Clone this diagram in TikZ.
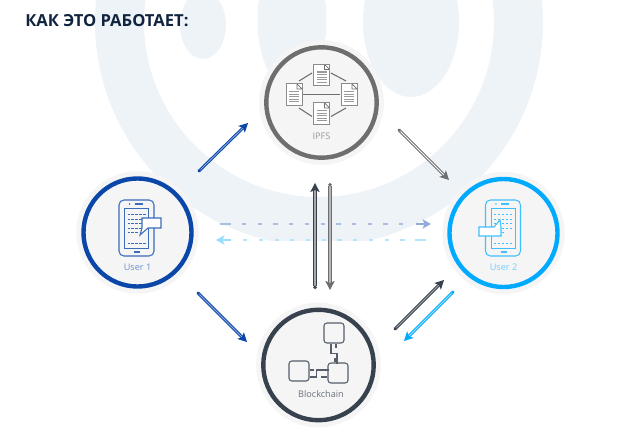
\documentclass[tikz,border=0pt]{standalone}
\usepackage{fontspec}
\setmainfont{Open Sans}
\usetikzlibrary{arrows.meta}
\definecolor{wash}{HTML}{EEF3F8}
\definecolor{haze}{HTML}{F5F5F5}
\definecolor{titleink}{HTML}{10233F}
\definecolor{navy}{HTML}{0A47A9}
\definecolor{sky}{HTML}{00AAFF}
\definecolor{iron}{HTML}{6E6E6E}
\definecolor{slate}{HTML}{37424E}
\tikzset{
  ring/.style={circle,inner sep=0pt,fill=haze,minimum size=2.7cm,line width=0.11cm,
    preaction={draw=haze,line width=0.36cm}},
  caption/.style={font=\fontsize{6.5}{7.5}\selectfont},
  flow/.style={line width=0.75pt,double distance=0.55pt,
    {Circle[length=2.4pt]}-{Stealth[length=6.4pt,width=6.6pt,inset=1.4pt]}},
  mast/.style={flow,line width=0.85pt,double distance=0.9pt},
  wire/.style={line width=0.75pt,color=#1},
  ghost/.style={line width=1.7pt},
  ghostdash/.style={ghost,dash pattern=on 3pt off 8.18pt},
  ghosthead/.style={line width=1.7pt,-{Stealth[length=6pt,width=6.6pt,inset=1.4pt]}},
  doc/.style={draw=iron!80,line width=0.6pt,fill=white,inner sep=0pt,minimum width=0.4cm,minimum height=0.53cm,
    path picture={
      \foreach \row in {-3,-0.4,2.2,4.8,7.4}
        \draw[iron!70,line width=0.8pt] ([shift={(-5,\row)}]path picture bounding box.center) -- ++(10,0);
      \fill[white] (path picture bounding box.north east) -- ++(-5,0) -- ++(5,5) -- cycle;
      \draw[iron,line width=0.5pt] ([shift={(-5,0)}]path picture bounding box.north east) -- ++(0,5) -- ++(5,0) -- cycle;
    }},
  block/.style={draw=slate!85,line width=0.75pt,rounded corners=2pt,fill=haze,inner sep=0pt,minimum size=0.5cm},
}
\newcommand{\phoneicon}[2]{%
  \begin{scope}[shift={#1}]
    \draw[wire=#2,rounded corners=3.5pt] (-17.5,-28) rectangle (17.5,28);
    \draw[wire=#2,line width=0.6pt] (-12,-20) rectangle (12,20);
    \draw[wire=#2] (-2,-24) -- (6,-24);
    \fill[#2] (-7,-24) circle (0.9);
    \draw[wire=#2] (-2.5,24) -- (3.5,24);
    \foreach \row in {-14,-9,-5,0}
      \draw[wire=#2,line width=0.6pt,dash pattern=on 1.6pt off 1.2pt] (-9,\row) -- (10,\row);
    \draw[wire=#2,line width=0.6pt,dash pattern=on 1.6pt off 1.2pt] (-9,4.5) -- (1,4.5);
    \draw[wire=#2,line width=0.6pt,dash pattern=on 1.6pt off 1.2pt] (-9,15.5) -- (9,15.5);
  \end{scope}}

\begin{document}
\begin{tikzpicture}[x=0.025cm,y=-0.025cm]
  \useasboundingbox (0,0) rectangle (640,448);

  % watermark
  \begin{scope}
    \clip (0,0) rectangle (640,240);
    \fill[wash,even odd rule] (319,22) circle (224) (319,22) circle (175);
    \fill[wash] (203,25) ellipse (23 and 34);
    \fill[wash] (292,20) ellipse (34.5 and 70);
    \fill[wash] (411,22) ellipse (48 and 75);
  \end{scope}

  \node[anchor=west,inner sep=0pt,font=\bfseries\fontsize{11.8}{14}\selectfont,color=titleink] (heading) at (25,21) {КАК ЭТО РАБОТАЕТ:};

  % circles
  \node[ring,draw=iron,minimum size=2.76cm] (ipfs) at (321.5,102.5) {};
  \node[ring,draw=navy] (userone) at (137.5,232.5) {};
  \node[ring,draw=sky] (usertwo) at (503.5,233) {};
  \node[ring,draw=slate,minimum size=2.76cm] (chain) at (318.5,365) {};

  % ipfs
  \node[doc] (doctop) at (321.5,75) {};
  \node[doc] (docleft) at (294,94.5) {};
  \node[doc] (docright) at (349,94.5) {};
  \node[doc] (docbottom) at (321.5,113.5) {};
  \draw[wire=iron] ([shift={(5,-2.5)}]docleft.north) -- ([shift={(-1,-2)}]doctop.west);
  \draw[wire=iron] ([shift={(1,-2)}]doctop.east) -- ([shift={(-3,-2.5)}]docright.north);
  \draw[wire=iron] ([shift={(1,0)}]docleft.east) -- ([shift={(-1,0)}]docright.west);
  \draw[wire=iron] ([shift={(5,2.5)}]docleft.south) -- ([shift={(-1,3)}]docbottom.west);
  \draw[wire=iron] ([shift={(1,3)}]docbottom.east) -- ([shift={(-3,2.5)}]docright.south);
  \node[caption,color=iron!70] (ipfslabel) at (321.5,136.5) {IPFS};

  % users
  \phoneicon{(136.5,228)}{navy!80}
  \draw[wire=navy!80,fill=white] (142,218) -- (161,218) -- (161,228) -- (148,228) -- (140,235) -- (142,228) -- cycle;
  \node[caption,color=navy!60] (useronelabel) at (137.5,267) {User 1};

  \phoneicon{(503,228)}{sky!75}
  \draw[wire=sky!75,fill=white] (479,227) -- (494,227) -- (500,220) -- (501,227) -- (501,236) -- (479,236) -- cycle;
  \node[caption,color=sky!55] (usertwolabel) at (503.5,267) {User 2};

  % blockchain
  \node[block] (blocktop) at (334,333) {};
  \node[block] (blockleft) at (299,371) {};
  \node[block] (blockright) at (338,373) {};
  \draw[wire=slate!85] ([shift={(-3,0)}]blocktop.south) -- ++(0,10) -- ++(6,0) -- ++(0,10);
  \draw[wire=slate!85] ([shift={(2,0)}]blocktop.south) -- ++(0,4);
  \draw[wire=slate!85] ([shift={(-3,0)}]blockright.north) -- ++(0,-4);
  \draw[wire=slate!85] ([shift={(0,-1)}]blockleft.east) -- ++(4,0);
  \draw[wire=slate!85] ([shift={(0,6)}]blockleft.east) -- ++(7,0) -- ++(0,-7) -- ++(12,0);
  \draw[wire=slate!85] ([shift={(0,4)}]blockright.west) -- ++(-6,0);
  \node[caption,color=slate!75] (chainlabel) at (321,394) {Blockchain};

  % arrows
  \coordinate (oneup) at (198,172);
  \coordinate (ipfsin) at (248,123);
  \coordinate (onedown) at (197,292);
  \coordinate (chainin) at (247,342);
  \coordinate (ipfsout) at (398,129);
  \coordinate (twoin) at (449,180);
  \coordinate (risefoot) at (315,289);
  \coordinate (risehead) at (315,183);
  \coordinate (fallfoot) at (330,183);
  \coordinate (fallhead) at (330,290);
  \coordinate (chainout) at (394,330);
  \coordinate (twohigh) at (444,280);
  \coordinate (twolow) at (454,291);
  \coordinate (chainback) at (404,341);

  \draw[flow,color=navy,double=navy!45] (oneup) -- (ipfsin);
  \draw[flow,color=navy,double=navy!45] (onedown) -- (chainin);
  \draw[flow,color=iron,double=white] (ipfsout) -- (twoin);
  \draw[mast,color=slate,double=iron!60] (risefoot) -- (risehead);
  \draw[mast,color=iron,double=iron!50] (fallfoot) -- (fallhead);
  \draw[flow,color=slate,double=iron!60] (chainout) -- (twohigh);
  \draw[flow,color=sky,double=sky!35] (twolow) -- (chainback);

  % dashed exchange
  \coordinate (onetail) at (220,224);
  \coordinate (onestub) at (231,224);
  \coordinate (onedash) at (242,224);
  \coordinate (onelast) at (404.5,224);
  \coordinate (onestem) at (415.5,224);
  \coordinate (onetip) at (431,224);
  \coordinate (twotail) at (426,240);
  \coordinate (twostub) at (415,240);
  \coordinate (twodash) at (404.5,240);
  \coordinate (twolast) at (242,240);
  \coordinate (twostem) at (231,240);
  \coordinate (twotip) at (216,240);

  \draw[ghost,color=navy!35] (onetail) -- (onestub);
  \draw[ghostdash,color=navy!35] (onedash) -- (onelast);
  \draw[ghosthead,color=navy!45] (onestem) -- (onetip);
  \draw[ghost,color=sky!30] (twotail) -- (twostub);
  \draw[ghostdash,color=sky!30] (twodash) -- (twolast);
  \draw[ghosthead,color=sky!40] (twostem) -- (twotip);
\end{tikzpicture}
\end{document}
